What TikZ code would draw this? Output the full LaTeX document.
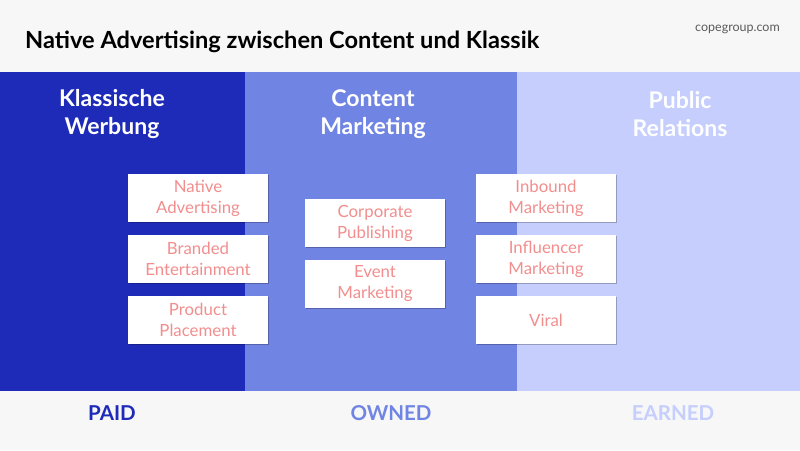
\documentclass[tikz,border=0pt]{standalone}
\usepackage{fontspec}
\setmainfont{Lato}
\usetikzlibrary{shadows}
\definecolor{bg}{HTML}{F7F7F7}
\definecolor{paidc}{HTML}{1D2BB8}
\definecolor{ownedc}{HTML}{7084E3}
\definecolor{earnedc}{HTML}{C5CEFD}
\definecolor{boxtext}{HTML}{F28E8E}
\definecolor{urlc}{HTML}{5A5A5A}
\tikzset{
  itembox/.style={fill=white, minimum width=140pt, minimum height=48pt, align=center,
    text=boxtext, font=\fontsize{16.8}{21}\selectfont, inner sep=0pt,
    drop shadow={shadow xshift=0.8pt, shadow yshift=-1.2pt, opacity=0.25, fill=black}},
  header/.style={text=white, font=\bfseries\fontsize{23}{28}\selectfont, align=center},
  bottomlabel/.style={font=\bfseries\fontsize{20.5}{24}\selectfont},
}
\begin{document}
\begin{tikzpicture}[x=1pt,y=-1pt]
\fill[bg] (0,0) rectangle (800,450);
\useasboundingbox (0,0) rectangle (800,450);
% bands
\fill[paidc] (0,72) rectangle (245,391);
\fill[ownedc] (245,72) rectangle (517,391);
\fill[earnedc] (517,72) rectangle (800,391);
% title
\node[anchor=base west, font=\bfseries\fontsize{23.6}{28}\selectfont, inner sep=0pt] (title) at (25,48) {Native Advertising zwischen Content und Klassik};
\node[anchor=base east, text=urlc, font=\fontsize{12.5}{15}\selectfont, inner sep=0pt] (url) at (780,31) {copegroup.com};
% headers
\node[header] (h1) at (112,114) {Klassische\\Werbung};
\node[header] (h2) at (373,114) {Content\\Marketing};
\node[header] (h3) at (680,114) {Public\\Relations};
% left boxes
\node[itembox] (b1) at (198,198) {Native\\Advertising};
\node[itembox] (b2) at (198,259) {Branded\\Entertainment};
\node[itembox] (b3) at (198,320) {Product\\Placement};
% middle boxes
\node[itembox] (c1) at (375,223) {Corporate\\Publishing};
\node[itembox] (c2) at (375,284) {Event\\Marketing};
% right boxes
\node[itembox] (d1) at (546,198) {Inbound\\Marketing};
\node[itembox] (d2) at (546,259) {Influencer\\Marketing};
\node[itembox] (d3) at (546,320) {Viral};
% bottom labels
\node[bottomlabel, text=paidc] (paid) at (112,413) {PAID};
\node[bottomlabel, text=ownedc] (owned) at (391,413) {OWNED};
\node[bottomlabel, text=earnedc] (earned) at (673,413) {EARNED};
\end{tikzpicture}
\end{document}
